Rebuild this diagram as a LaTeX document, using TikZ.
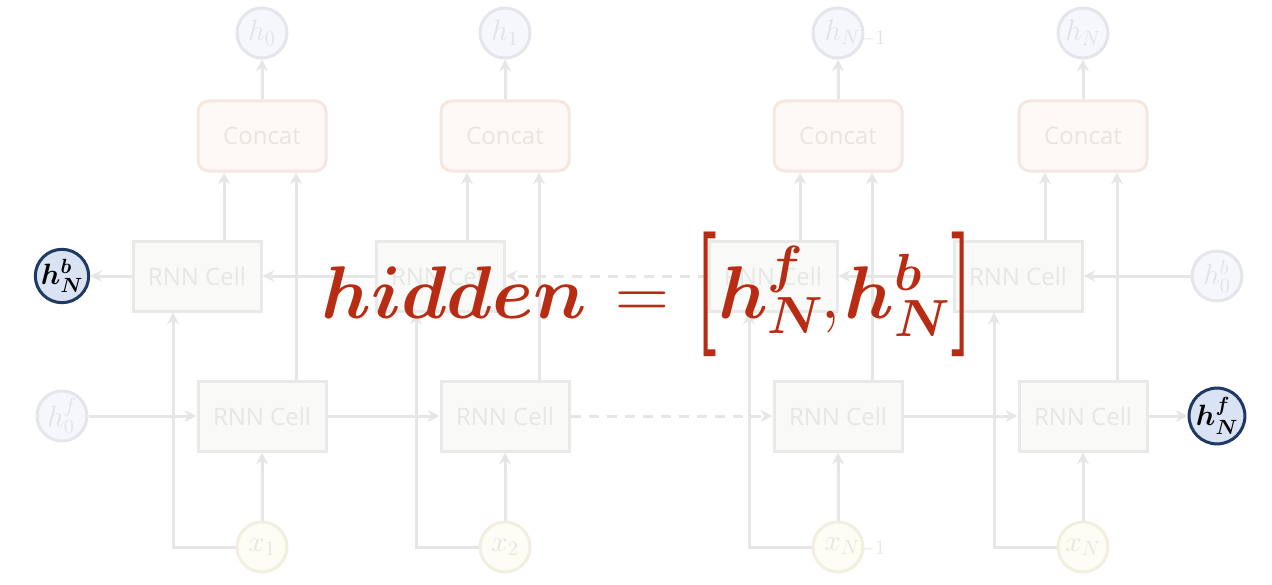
\RequirePackage{fix-cm}
\documentclass[tikz,border=0pt]{standalone}
\usepackage{amsmath}
\usepackage{bm}
\usepackage{graphicx}
\usepackage{fontspec}
\setsansfont{Open Sans}
\usetikzlibrary{
    arrows.meta,
    calc
}

\definecolor{lineGray}{HTML}{E6E6E6}
\definecolor{cellFill}{HTML}{F9FAF8}
\definecolor{cellBorder}{HTML}{E8EAE7}
\definecolor{cellText}{HTML}{E4E7E3}
\definecolor{concatFill}{HTML}{FEF9F6}
\definecolor{concatBorder}{HTML}{F3E7DF}
\definecolor{concatText}{HTML}{EEE3DC}
\definecolor{hFill}{HTML}{F6F7FB}
\definecolor{hBorder}{HTML}{E4E6EC}
\definecolor{hText}{HTML}{E0E2E8}
\definecolor{xFill}{HTML}{FDFCF5}
\definecolor{xBorder}{HTML}{F2EFE0}
\definecolor{xText}{HTML}{E7E5DB}
\definecolor{hiFill}{HTML}{DAE3F3}
\definecolor{hiBorder}{HTML}{1F3864}
\definecolor{formulaRed}{HTML}{B72C12}

% tall bold bracket for the formula
\newcommand{\tallbrack}[1]{\hbox{\raisebox{-0.1em}{\scalebox{1}[1.67]{\textbf{#1}}}}}

\begin{document}
\begin{tikzpicture}[
    x=0.75pt, y=-0.75pt,
    link/.style={
      draw=lineGray,
      line width=2.25pt,
      -{Stealth[length=9pt, width=9pt, inset=3pt]}
    },
    dashlink/.style={link, dash pattern=on 7.5pt off 6pt},
    cell/.style={
      draw=cellBorder,
      fill=cellFill,
      text=cellText,
      line width=2.25pt,
      minimum width=96pt,
      minimum height=52.5pt,
      inner sep=0pt,
      font=\sffamily\fontsize{18}{20}\selectfont
    },
    concatbox/.style={
      cell,
      draw=concatBorder,
      fill=concatFill,
      text=concatText,
      rounded corners=8pt
    },
    hcirc/.style={
      circle,
      draw=hBorder,
      fill=hFill,
      text=hText,
      line width=2.25pt,
      minimum size=37.5pt,
      inner sep=0pt,
      font=\fontsize{22}{24}\selectfont
    },
    xcirc/.style={hcirc, draw=xBorder, fill=xFill, text=xText},
    hilite/.style={hcirc, draw=hiBorder, fill=hiFill, text=black},
    formula/.style={
      anchor=base west,
      text=formulaRed,
      inner sep=0pt,
      font=\fontsize{56}{60}\selectfont
    }
  ]

  \useasboundingbox (0,0) rectangle (1272,585);

  % end states {{{
  \node[hilite] (hNb) at (62,276) {$\bm{h_N^b}$};
  \node[hcirc] (h0f) at (62,416) {$h_0^f$};
  \node[hcirc] (h0b) at (1217,276) {$h_0^b$};
  \node[hilite] (hNf) at (1217,416) {$\bm{h_N^f}$};
  % }}}

  % column 1 {{{
  \node[hcirc] (h0) at (262,33) {$h_0$};
  \node[concatbox] (concat1) at (262,136) {Concat};
  \node[cell] (bcell1) at (197,276) {RNN Cell};
  \node[cell] (fcell1) at (262,416) {RNN Cell};
  \node[xcirc] (x1) at (262,547) {$x_1$};
  % }}}

  % column 2 {{{
  \node[hcirc] (h1) at (505,33) {$h_1$};
  \node[concatbox] (concat2) at (505,136) {Concat};
  \node[cell] (bcell2) at (440,276) {RNN Cell};
  \node[cell] (fcell2) at (505,416) {RNN Cell};
  \node[xcirc] (x2) at (505,547) {$x_2$};
  % }}}

  % column N-1 {{{
  \node[hcirc] (hNm1) at (838,33) {\makebox[20pt][l]{$h_{N-1}$}};
  \node[concatbox] (concat3) at (838,136) {Concat};
  \node[cell] (bcell3) at (773,276) {RNN Cell};
  \node[cell] (fcell3) at (838,416) {RNN Cell};
  \node[xcirc] (xNm1) at (838,547) {\makebox[20pt][l]{$x_{N-1}$}};
  % }}}

  % column N {{{
  \node[hcirc] (hN) at (1083,33) {$h_N$};
  \node[concatbox] (concat4) at (1083,136) {Concat};
  \node[cell] (bcell4) at (1018,276) {RNN Cell};
  \node[cell] (fcell4) at (1083,416) {RNN Cell};
  \node[xcirc] (xN) at (1083,547) {$x_N$};
  % }}}

  % vertical links {{{
  \draw[link] (concat1) -- (h0);
  \draw[link] ([xshift=-28.5pt]concat1.south |- bcell1.north) -- ([xshift=-28.5pt]concat1.south);
  \draw[link] ([xshift=25.5pt]fcell1.north) -- ([xshift=25.5pt]concat1.south);
  \draw[link] (x1) -- (fcell1);
  \draw[link] (x1.west) -| ([xshift=-18pt]bcell1.south);

  \draw[link] (concat2) -- (h1);
  \draw[link] ([xshift=-28.5pt]concat2.south |- bcell2.north) -- ([xshift=-28.5pt]concat2.south);
  \draw[link] ([xshift=25.5pt]fcell2.north) -- ([xshift=25.5pt]concat2.south);
  \draw[link] (x2) -- (fcell2);
  \draw[link] (x2.west) -| ([xshift=-18pt]bcell2.south);

  \draw[link] (concat3) -- (hNm1);
  \draw[link] ([xshift=-28.5pt]concat3.south |- bcell3.north) -- ([xshift=-28.5pt]concat3.south);
  \draw[link] ([xshift=25.5pt]fcell3.north) -- ([xshift=25.5pt]concat3.south);
  \draw[link] (xNm1) -- (fcell3);
  \draw[link] (xNm1.west) -| ([xshift=-18pt]bcell3.south);

  \draw[link] (concat4) -- (hN);
  \draw[link] ([xshift=-28.5pt]concat4.south |- bcell4.north) -- ([xshift=-28.5pt]concat4.south);
  \draw[link] ([xshift=25.5pt]fcell4.north) -- ([xshift=25.5pt]concat4.south);
  \draw[link] (xN) -- (fcell4);
  \draw[link] (xN.west) -| ([xshift=-18pt]bcell4.south);
  % }}}

  % forward row {{{
  \draw[link] (h0f) -- (fcell1);
  \draw[link] (fcell1) -- (fcell2);
  \draw[dashlink] (fcell2) -- (fcell3);
  \draw[link] (fcell3) -- (fcell4);
  \draw[link] (fcell4) -- (hNf);
  % }}}

  % backward row {{{
  \draw[link] (h0b) -- (bcell4);
  \draw[link] (bcell4) -- (bcell3);
  \draw[dashlink] (bcell3) -- (bcell2);
  \draw[link] (bcell2) -- (bcell1);
  \draw[link] (bcell1) -- (hNb);
  % }}}

  \node[formula] (hidden) at (321,318)
    {$\bm{hidden}\mkern2mu = \mkern1mu\mathopen{\tallbrack{[}}\bm{h_N^f}\mkern-1mu,\mkern-2mu\bm{h_N^b}\mathclose{\tallbrack{]}}$};

\end{tikzpicture}
\end{document}
